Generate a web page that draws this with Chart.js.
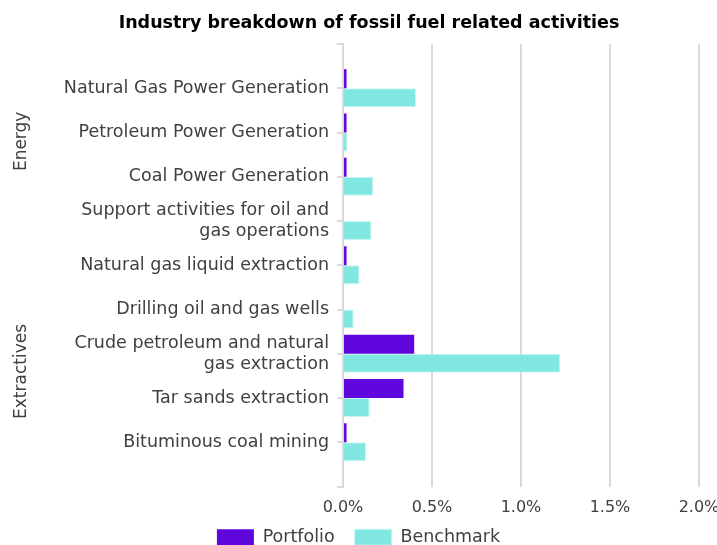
<!DOCTYPE html>
<html>
<head>
<meta charset="utf-8">
<script src="https://cdn.jsdelivr.net/npm/chart.js@4.4.1/dist/chart.umd.min.js"></script>
<style>
  html, body { margin: 0; padding: 0; background: #fff; }
  #wrap { width: 717px; height: 545px; }
</style>
</head>
<body>
<div id="wrap"><canvas id="fossilChart" width="717" height="545"></canvas></div>
<script>
// Categorias (de arriba hacia abajo); los vacios dejan el margen del eje
const categories = [
  "",
  "Natural Gas Power Generation",
  "Petroleum Power Generation",
  "Coal Power Generation",
  ["Support activities for oil and", "gas operations"],
  "Natural gas liquid extraction",
  "Drilling oil and gas wells",
  ["Crude petroleum and natural", "gas extraction"],
  "Tar sands extraction",
  "Bituminous coal mining",
  ""
];

// Valores en %
const portfolio = [null, 0.02, 0.02, 0.02, 0, 0.02, 0, 0.40, 0.34, 0.02, null];
const benchmark = [null, 0.41, 0.025, 0.17, 0.16, 0.093, 0.06, 1.22, 0.15, 0.13, null];

const xTicks = [0, 0.5, 1.0, 1.5, 2.0];
const groupLabels = ["Energy", "Extractives"];

const FONT = "'DejaVu Sans', sans-serif";
const TEXT = "#404040";
const GRID = "#d9d9d9";

// Titulo y etiquetas de grupo (Energy / Extractives)
const extrasPlugin = {
  id: "extras",
  afterDraw(chart) {
    const ctx = chart.ctx;
    ctx.save();
    ctx.fillStyle = "#000";
    ctx.font = "bold 17.5px " + FONT;
    ctx.textAlign = "center";
    ctx.textBaseline = "middle";
    ctx.fillText("Industry breakdown of fossil fuel related activities", 369, 23);

    ctx.fillStyle = TEXT;
    ctx.font = "17px " + FONT;
    const yScale = chart.scales.y;
    const groupPos = [2.2, 7.4];
    groupLabels.forEach((g, i) => {
      const y = yScale.getPixelForValue(groupPos[i]);
      ctx.save();
      ctx.translate(22, y);
      ctx.rotate(-Math.PI / 2);
      ctx.fillText(g, 0, 0);
      ctx.restore();
    });
    ctx.restore();
  }
};

const ctx = document.getElementById("fossilChart").getContext("2d");
new Chart(ctx, {
  type: "bar",
  data: {
    labels: categories,
    datasets: [
      {
        label: "Portfolio",
        data: portfolio,
        backgroundColor: "#5f07dc",
        borderWidth: 0,
        categoryPercentage: 0.86,
        barPercentage: 1.0,
      },
      {
        label: "Benchmark",
        data: benchmark,
        backgroundColor: "#80e8e0",
        borderColor: "#c8f5f1",
        borderWidth: 1,
        categoryPercentage: 0.86,
        barPercentage: 1.0,
      },
    ],
  },
  options: {
    indexAxis: "y",
    responsive: false,
    animation: false,
    layout: { padding: { top: 44, right: 0, bottom: -11, left: 0 } },
    scales: {
      x: {
        min: 0,
        max: 2,
        afterBuildTicks: (scale) => { scale.ticks = xTicks.map(v => ({ value: v })); },
        afterFit: (scale) => {
          scale.height = 22;
          scale.paddingLeft = 0;
          scale.paddingRight = 18;
          // las etiquetas quedan por debajo del alto forzado, sin recortar
          scale._computeLabelArea = () => undefined;
        },
        ticks: {
          callback: (v) => Number(v).toFixed(1) + "%",
          color: TEXT,
          font: { family: FONT, size: 16 },
          padding: 12,
        },
        grid: { color: GRID, lineWidth: 2, drawTicks: false },
        border: { display: false },
      },
      y: {
        offset: false,
        afterFit: (scale) => {
          scale.width = 343;
          scale.paddingTop = 0;
          scale.paddingBottom = 0;
        },
        ticks: {
          color: TEXT,
          font: { family: FONT, size: 17.5 },
          padding: 8,
          autoSkip: false,
        },
        grid: {
          offset: false,
          drawOnChartArea: false,
          drawTicks: true,
          tickLength: 6,
          color: GRID,
          lineWidth: 2,
        },
        border: { display: true, color: GRID, width: 2 },
      },
    },
    plugins: {
      title: { display: false },
      tooltip: { enabled: false },
      legend: {
        position: "bottom",
        labels: {
          boxWidth: 37,
          boxHeight: 16,
          color: TEXT,
          font: { family: FONT, size: 17.5 },
          padding: 20,
        },
      },
    },
  },
  plugins: [extrasPlugin],
});
</script>
</body>
</html>
